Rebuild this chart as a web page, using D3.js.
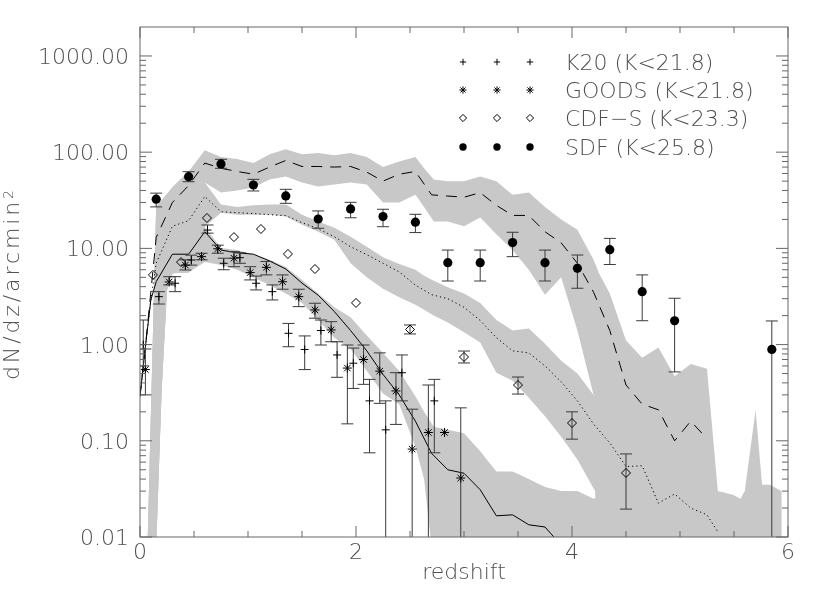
<!DOCTYPE html>
<html><head><meta charset="utf-8">
<script src="https://cdn.jsdelivr.net/npm/d3@7/dist/d3.min.js"></script>
<style>
body{margin:0;background:#fff}
text{font-family:"DejaVu Sans",sans-serif;font-weight:200;fill:#4d4d4d}
</style></head>
<body><svg id="c" width="830" height="593"></svg>
<script>
// ---------------- data ----------------
// model bands (shared redshift grid)
const bandZ   = [0.06,0.15,0.2,0.25,0.3,0.45,0.6,0.75,0.9,1.05,1.2,1.35,1.5,1.65,1.8,1.95,2.1,2.25,2.4,2.55,2.63,2.72,2.85,3.0,3.15,3.3,3.45,3.6,3.75,3.9,4.05,4.2,4.25,4.35,4.5,4.65,4.8,4.95,5.1,5.25,5.35,5.49,5.56,5.6,5.7,5.76,5.83,5.94];
const upperLo = [1e-4,0.008,0.33,3.7,5.5,5.6,48.5,38,40,43,52,56,48.5,44,46,48.5,46,30,30,36,27,19,19,17,21,14,9.6,6,3.3,5,1.4,0.3,1e-4,1e-4,1e-4,1e-4,1e-4,1e-4,1e-4,1e-4,1e-4,1e-4,1e-4,1e-4,1e-4,1e-4,1e-4,1e-4];
const upperHi = [0.003,27,31.5,36.8,43,63,105,89,85,77,95,107,95,98,93,98,89,70,80,89,68,52,50,50,56,50,36,38,27,20,15.6,7.6,5.5,3.4,1.1,0.73,0.93,0.47,0.63,0.56,0.030,0.0275,0.025,0.030,0.21,0.035,0.035,0.03];
const midLo   = [1e-4,0.008,0.33,3.7,5.5,5.6,16.8,23.5,22.4,22.4,22.4,21.4,17.6,14.9,12.3,7,5,3.8,3.1,2.6,2.3,2.0,1.7,1.34,1.05,0.51,0.42,0.28,0.18,0.11,0.064,0.032,0.026];
const midHi   = [0.003,27,31.5,36.8,43,63,48.5,28.5,27,28,28.5,28.5,22.4,19,16.4,13.2,10.4,8.1,6.9,6,5.2,4.6,3.95,3.4,2.7,1.8,1.4,1.47,1.02,0.68,0.5,0.3,0.2];
const lowLo   = [1e-4,0.008,0.33,3.7,5.5,5.6,7.2,6.7,6.0,5.0,4.15,3.4,2.7,1.8,1.18,0.9,0.53,0.31,0.24,0.087,0.04,0.005,1e-4,1e-4,1e-4,1e-4,1e-4,1e-4,1e-4,1e-4,1e-4,1e-4,1e-4];
const lowHi   = [0.003,27,31.5,36.8,43,63,16.8,10.1,9.6,8.7,7.6,6.4,4.7,3.4,2.44,1.92,1.24,0.82,0.53,0.29,0.2,0.14,0.13,0.12,0.078,0.048,0.048,0.04,0.033,0.03,0.03,0.025,0.026];

// model curves
const solidZ  = [0,0.05,0.1,0.15,0.3,0.45,0.6,0.75,0.9,1.05,1.2,1.35,1.5,1.65,1.8,1.95,2.1,2.25,2.4,2.55,2.7,2.85,3.0,3.15,3.3,3.45,3.6,3.75,3.85];
const solidV  = [0.29,0.95,2.9,4.5,8.7,8.7,14.9,9.6,9.0,8.7,7.4,6.1,4.35,3.26,2.2,1.4,0.86,0.49,0.3,0.16,0.074,0.05,0.046,0.031,0.0166,0.017,0.0134,0.0127,0.0095];
const dottedZ = [0,0.05,0.1,0.15,0.3,0.45,0.6,0.75,0.9,1.05,1.2,1.35,1.5,1.65,1.8,1.95,2.1,2.25,2.4,2.55,2.7,2.85,3.0,3.15,3.3,3.45,3.6,3.75,3.9,4.05,4.2,4.35,4.5,4.65,4.8,4.95,5.1,5.25,5.35];
const dottedV = [0.29,0.95,2.9,7,17,19.4,34.6,24,23.5,23,22.4,21.9,18.5,16,13.2,10.4,8.6,7,5.7,4.15,3.3,3.0,2.44,1.78,1.18,0.86,0.82,0.6,0.41,0.26,0.149,0.095,0.054,0.055,0.0225,0.028,0.020,0.017,0.0113];
const dashedZ = [0,0.05,0.1,0.15,0.3,0.45,0.6,0.75,0.9,1.05,1.2,1.35,1.5,1.65,1.8,1.95,2.1,2.25,2.4,2.55,2.7,2.85,3.0,3.15,3.3,3.45,3.6,3.75,3.9,4.05,4.2,4.35,4.5,4.65,4.8,4.95,5.1,5.25];
const dashedV = [0.29,0.95,3.5,13,30,45,77,68,63,59,70,82,71,71,70,71,62,50,59,63,36,35,34,38,28,22,22,14.9,11.4,7,3.5,1.4,0.38,0.24,0.21,0.1,0.16,0.105];

// observed samples
const k20Z  = [0.03,0.175,0.325,0.475,0.625,0.775,0.925,1.075,1.225,1.375,1.525,1.675,1.825,1.975,2.125,2.275,2.425,2.725];
const k20V  = [1.0,3.15,4.34,7.57,15.5,7.0,8.0,4.34,3.55,1.31,0.89,1.40,0.78,0.64,0.26,0.13,0.51,0.26];
const k20Lo = [0.6,2.64,3.55,6.7,14.4,6.0,7.0,3.7,2.91,0.95,0.55,0.99,0.457,0.35,0.075,1e-4,0.26,0.075];
const k20Hi = [1.8,3.55,5.08,8.5,17.5,7.9,9.0,5.16,4.17,1.66,1.23,1.8,1.07,0.92,0.435,0.26,0.78,0.435];

const goodsZ  = [0.05,0.27,0.42,0.57,0.72,0.87,1.02,1.17,1.32,1.47,1.62,1.77,1.92,2.07,2.22,2.37,2.52,2.67,2.82,2.97];
const goodsV  = [0.55,4.48,6.7,8.2,9.9,7.9,5.6,6.35,4.5,3.15,2.29,1.42,0.57,0.70,0.53,0.33,0.082,0.122,0.122,0.041];
const goodsLo = [0.3,4.17,5.96,7.6,8.9,6.45,4.7,5.3,3.76,2.48,1.88,1.07,0.15,0.386,0.245,0.148,1e-4,1e-4,null,1e-4];
const goodsHi = [0.9,5.08,7.6,8.9,10.8,9.25,6.45,7.3,5.3,3.76,2.69,1.73,0.99,0.99,0.82,0.51,0.213,0.38,null,0.22];

const cdfsZ  = [0.12,0.38,0.62,0.87,1.12,1.37,1.62,2.0,2.5,3.0,3.5,4.0,4.5];
const cdfsV  = [5.3,7.2,20.7,13.1,15.9,8.75,6.1,2.71,1.435,0.743,0.38,0.153,0.0463];
const cdfsLo = [null,null,null,null,null,null,null,null,1.29,0.644,0.306,0.104,0.0195];
const cdfsHi = [null,null,null,null,null,null,null,null,1.6,0.857,0.46,0.2,0.073];

const sdfZ  = [0.15,0.45,0.75,1.05,1.35,1.65,1.95,2.25,2.55,2.85,3.15,3.45,3.75,4.05,4.35,4.65,4.95,5.85];
const sdfV  = [32.5,55.6,75.4,45.6,35.1,20.2,25.7,21.4,18.7,7.1,7.1,11.5,7.1,6.2,9.7,3.55,1.77,0.89];
const sdfLo = [27,49.3,68,39.5,29.4,16.2,20.8,16.8,14.6,4.58,4.58,8.2,4.58,3.85,6.8,1.77,0.52,1e-4];
const sdfHi = [37.5,62.7,84.3,52.2,41.1,24.5,30.1,25.5,22.6,9.6,9.6,14.7,9.6,8.53,12.7,5.3,3.03,1.76];

const yTickVals = [0.01,0.1,1,10,100,1000];
const xTickVals = [0,2,4,6];
const legendLabels = ["K20 (K<21.8)","GOODS (K<21.8)","CDF\u2212S (K<23.3)","SDF (K<25.8)"];

// ---------------- drawing ----------------
const svg = d3.select("#c");
const L=140,R=788,T=27,B=537;
const x = d3.scaleLinear().domain([0,6]).range([L,R]);
const y = d3.scaleLog().domain([0.01,2000]).range([B,T]);

svg.append("defs").append("clipPath").attr("id","clip")
  .append("rect").attr("x",L).attr("y",T).attr("width",R-L).attr("height",B-T);
const g = svg.append("g").attr("clip-path","url(#clip)");

function band(lo,hi){
  const pts = bandZ.map((z,i)=>({z,lo:lo[i],hi:hi[i]})).filter(d=>d.lo!=null&&d.hi!=null);
  return d3.area().x(d=>x(d.z)).y0(d=>y(d.lo)).y1(d=>y(d.hi))(pts);
}
[[upperLo,upperHi],[midLo,midHi],[lowLo,lowHi]].forEach(([lo,hi])=>{
  g.append("path").attr("d",band(lo,hi)).attr("fill","#c8c8c8").attr("stroke","none");
});

const line = d3.line().x(d=>x(d[0])).y(d=>y(d[1]));
g.append("path").attr("d",line(solidZ.map((z,i)=>[z,solidV[i]]))).attr("fill","none").attr("stroke","#000").attr("stroke-width",1);
g.append("path").attr("d",line(dottedZ.map((z,i)=>[z,dottedV[i]]))).attr("fill","none").attr("stroke","#000").attr("stroke-width",1).attr("stroke-dasharray","1.2,3");
g.append("path").attr("d",line(dashedZ.map((z,i)=>[z,dashedV[i]]))).attr("fill","none").attr("stroke","#000").attr("stroke-width",1).attr("stroke-dasharray","11,8");

// error bars
function errbars(Z,Lo,Hi){
  Z.forEach((z,i)=>{
    if(Lo[i]==null||Hi[i]==null) return;
    const cx=x(z), y1=y(Hi[i]), y0=y(Lo[i]);
    g.append("line").attr("x1",cx).attr("x2",cx).attr("y1",y1).attr("y2",y0).attr("stroke","#3a3a3a").attr("stroke-width",1);
    g.append("line").attr("x1",cx-6).attr("x2",cx+6).attr("y1",y1).attr("y2",y1).attr("stroke","#3a3a3a").attr("stroke-width",1);
    g.append("line").attr("x1",cx-6).attr("x2",cx+6).attr("y1",y0).attr("y2",y0).attr("stroke","#3a3a3a").attr("stroke-width",1);
  });
}
errbars(k20Z,k20Lo,k20Hi);
errbars(goodsZ,goodsLo,goodsHi);
errbars(cdfsZ,cdfsLo,cdfsHi);
errbars(sdfZ,sdfLo,sdfHi);

const sym = {
  plus: "M-4,0H4M0,-4V4",
  star: "M-4.5,0H4.5M0,-4.5V4.5M-3.2,-3.2L3.2,3.2M-3.2,3.2L3.2,-3.2",
  diamond: "M0,-4.5L4.5,0L0,4.5L-4.5,0Z"
};
function drawSym(parent,cx,cy,kind,s){
  if(kind==="dot"){
    parent.append("circle").attr("cx",cx).attr("cy",cy).attr("r",4.6*s).attr("fill","#000");
  } else {
    parent.append("path").attr("d",sym[kind]).attr("transform",`translate(${cx},${cy}) scale(${s})`)
      .attr("fill","none").attr("stroke","#000").attr("stroke-width",1/s);
  }
}
function markers(Z,V,kind){ Z.forEach((z,i)=>drawSym(g,x(z),y(V[i]),kind,1)); }
markers(k20Z,k20V,"plus");
markers(goodsZ,goodsV,"star");
markers(cdfsZ,cdfsV,"diamond");
markers(sdfZ,sdfV,"dot");

// axes box
const ax = svg.append("g").attr("stroke","#666").attr("stroke-width",1).attr("fill","none");
ax.append("rect").attr("x",L).attr("y",T).attr("width",R-L).attr("height",B-T);
const yMinor=[];
yTickVals.forEach(d=>{ for(let k=2;k<=9;k++){ const v=k*d; if(v<2000) yMinor.push(v);} });
yTickVals.forEach(v=>{
  ax.append("line").attr("x1",L).attr("x2",L+12).attr("y1",y(v)).attr("y2",y(v));
  ax.append("line").attr("x1",R).attr("x2",R-12).attr("y1",y(v)).attr("y2",y(v));
});
yMinor.forEach(v=>{
  ax.append("line").attr("x1",L).attr("x2",L+6).attr("y1",y(v)).attr("y2",y(v));
  ax.append("line").attr("x1",R).attr("x2",R-6).attr("y1",y(v)).attr("y2",y(v));
});
const xMinor=[0.5,1,1.5,2.5,3,3.5,4.5,5,5.5];
xTickVals.forEach(v=>{
  ax.append("line").attr("x1",x(v)).attr("x2",x(v)).attr("y1",B).attr("y2",B-11);
  ax.append("line").attr("x1",x(v)).attr("x2",x(v)).attr("y1",T).attr("y2",T+11);
});
xMinor.forEach(v=>{
  ax.append("line").attr("x1",x(v)).attr("x2",x(v)).attr("y1",B).attr("y2",B-6);
  ax.append("line").attr("x1",x(v)).attr("x2",x(v)).attr("y1",T).attr("y2",T+6);
});

// text (grouped with opacity for greyscale antialiasing)
const tg = svg.append("g").attr("opacity",0.99);
const fmt = d3.format(".2f");
yTickVals.forEach(v=>{
  tg.append("text").attr("x",129).attr("y",y(v)).attr("dy","0.36em").attr("text-anchor","end")
    .attr("font-size",22).text(fmt(v));
});
xTickVals.forEach(v=>{
  tg.append("text").attr("x",x(v)).attr("y",559).attr("text-anchor","middle").attr("font-size",22).text(String(v));
});
tg.append("text").attr("x",(L+R)/2).attr("y",579).attr("text-anchor","middle").attr("font-size",22).text("redshift");
const yt = tg.append("text").attr("transform","translate(19,285) rotate(-90)").attr("text-anchor","middle").attr("font-size",22)
  .attr("textLength",190).attr("lengthAdjust","spacing");
yt.append("tspan").text("dN/dz/arcmin");
yt.append("tspan").attr("dy","-0.45em").attr("font-size",14).text("2");

// legend
const legKinds=["plus","star","diamond","dot"];
const legRowY=[62,90,118,147];
const legSymX=[463,497,530];
const lg = svg.append("g");
legendLabels.forEach((lab,i)=>{
  legSymX.forEach(sx=>drawSym(lg,sx,legRowY[i],legKinds[i],0.8));
  tg.append("text").attr("x",565).attr("y",legRowY[i]).attr("dy","0.36em").attr("font-size",22).text(lab);
});
</script></body></html>
